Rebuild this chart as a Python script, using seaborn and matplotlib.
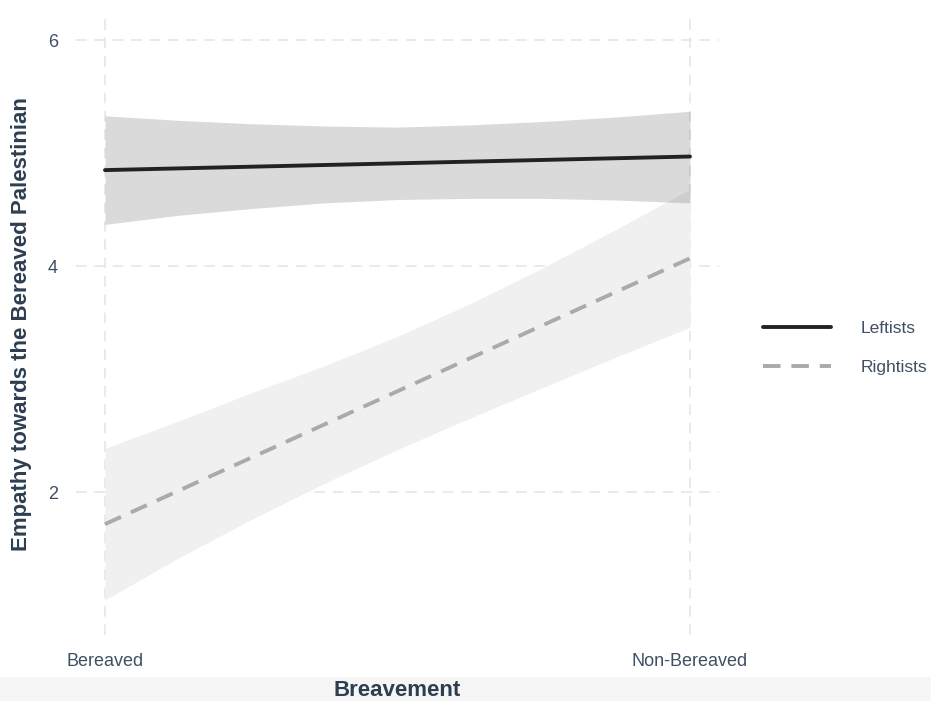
import matplotlib
matplotlib.use("Agg")
import matplotlib.pyplot as plt
from matplotlib.patches import Rectangle
import seaborn as sns
import pandas as pd

# ---- data ----
categories = ["Bereaved", "Non-Bereaved"]
cat_pos = [0, 1]
groups = ["Leftists", "Rightists"]
left_means = [4.85, 4.97]
right_means = [1.72, 4.07]

band_x = [0.0, 0.125, 0.25, 0.375, 0.5, 0.625, 0.75, 0.875, 1.0]
left_lo = [4.37, 4.45, 4.51, 4.56, 4.59, 4.60, 4.60, 4.585, 4.56]
left_hi = [5.33, 5.29, 5.26, 5.24, 5.23, 5.25, 5.28, 5.32, 5.37]
right_lo = [1.05, 1.42, 1.76, 2.08, 2.38, 2.66, 2.93, 3.20, 3.46]
right_hi = [2.39, 2.63, 2.88, 3.12, 3.38, 3.67, 3.99, 4.33, 4.68]

y_ticks = [2, 4, 6]
x_label = "Breavement"
y_label = "Empathy towards the Bereaved Palestinian"

df = pd.DataFrame({
    "x": cat_pos * 2,
    "y": left_means + right_means,
    "group": [groups[0]] * 2 + [groups[1]] * 2,
})

sns.set_theme(style="white")
plt.rcParams["font.family"] = ["Liberation Sans", "DejaVu Sans"]

title_col = "#2c3e50"
tick_col = "#3f5064"

fig = plt.figure(figsize=(9.31, 7.01), dpi=100)
fig.patches.append(Rectangle((0, 0), 1, 24 / 701, transform=fig.transFigure,
                             facecolor="#f6f6f6", edgecolor="none", zorder=0))
ax = fig.add_axes([76 / 931, 66 / 701, 643 / 931, 621 / 701])
ax.set_facecolor("none")

# confidence bands
ax.fill_between(band_x, right_lo, right_hi, color="#f0f0f0", lw=0, zorder=1)
ax.fill_between(band_x, left_lo, left_hi, color="black", alpha=0.145, lw=0, zorder=2)

sns.lineplot(data=df, x="x", y="y", hue="group", style="group",
             palette={"Leftists": "#222222", "Rightists": "#aaaaaa"},
             dashes={"Leftists": "", "Rightists": (4.5, 2.8)},
             linewidth=2.8, ax=ax, zorder=3)

ax.set_xlim(-0.0496, 1.0496)
ax.set_ylim(0.74, 6.23)
ax.set_xticks(cat_pos)
ax.set_xticklabels(categories)
ax.set_yticks(y_ticks)
ax.tick_params(axis="both", length=0, labelsize=13, labelcolor=tick_col)
ax.tick_params(axis="y", pad=13)
ax.tick_params(axis="x", pad=13)
ax.grid(True, color="#e4e4e4", linestyle=(0, (7, 5)), linewidth=1.1, zorder=0)
ax.set_axisbelow(True)
for s in ax.spines.values():
    s.set_visible(False)

ax.set_xlabel("")
ax.set_ylabel("")
fig.text(397 / 931, 1 - 691 / 701, x_label, ha="center", va="center",
         fontsize=16, fontweight="bold", color=title_col)
fig.text(22 / 931, 1 - 324 / 701, y_label, ha="center", va="center", rotation=90,
         fontsize=16, fontweight="bold", color=title_col)

handles, labels = ax.get_legend_handles_labels()
ax.get_legend().remove()
leg = fig.legend(handles, labels, loc="center left",
                 bbox_to_anchor=(763 / 931, 1 - 348 / 701),
                 frameon=False, fontsize=12.5, handlelength=3.9,
                 handletextpad=1.75, labelspacing=1.35, borderpad=0,
                 borderaxespad=0)
for t in leg.get_texts():
    t.set_color(tick_col)
for h in leg.get_lines():
    h.set_linewidth(2.8)

fig.savefig("out.png", dpi=100)
